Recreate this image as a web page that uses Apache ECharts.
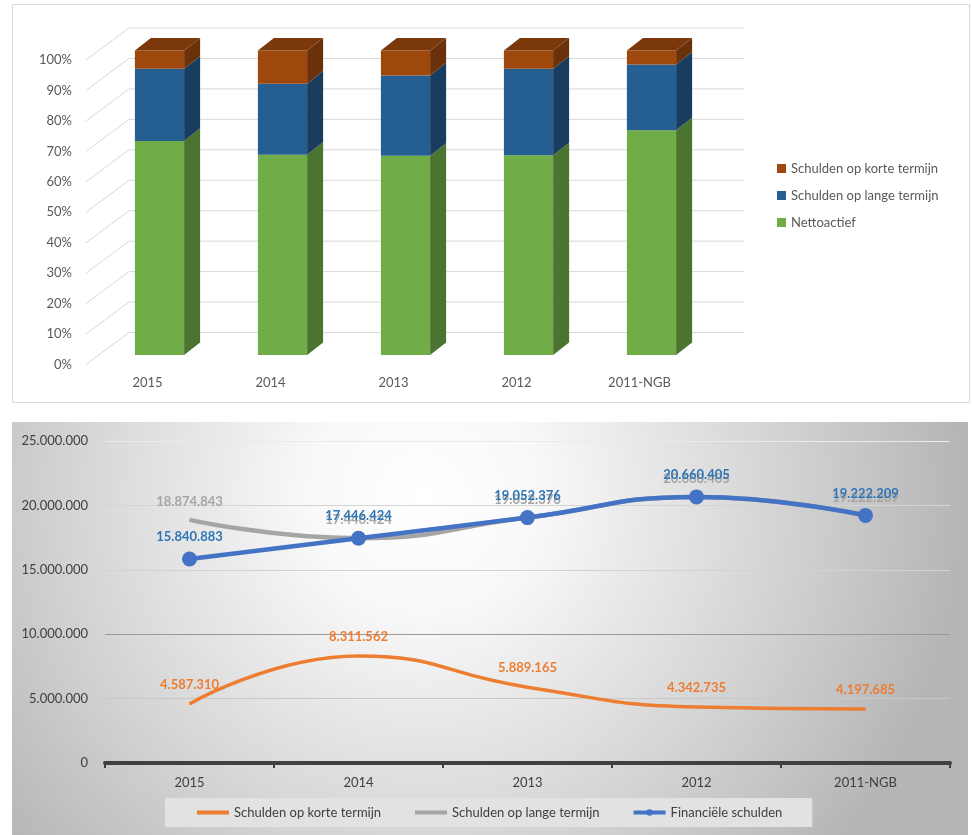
<!DOCTYPE html>
<html>
<head>
<meta charset="utf-8">
<script src="https://cdn.jsdelivr.net/npm/echarts@6/dist/echarts.min.js"></script>
<style>
html,body{margin:0;padding:0;background:#fff;}
#chart{width:972px;height:835px;}
</style>
</head>
<body>
<div id="chart"></div>
<script>
// ---- data ----
const categories = ['2015', '2014', '2013', '2012', '2011-NGB'];
// top chart: shares (%) per year
const pctNettoactief = [70.3, 65.8, 65.4, 65.6, 73.8];
const pctLange = [23.7, 23.3, 26.4, 28.4, 21.6];
const pctKorte = [6.0, 10.9, 8.2, 6.0, 4.6];
const pctTicks = [0, 10, 20, 30, 40, 50, 60, 70, 80, 90, 100];
// bottom chart: amounts
const schuldenKorte = [4587310, 8311562, 5889165, 4342735, 4197685];
const schuldenLange = [18874843, 17446424, 19052376, 20660405, 19222209];
const financieleSchulden = [15840883, 17446424, 19052376, 20660405, 19222209];

const nameKorte = 'Schulden op korte termijn';
const nameLange = 'Schulden op lange termijn';
const nameNetto = 'Nettoactief';
const nameFin = 'Financiële schulden';

// ---- helpers ----
function fmt(v) {
  return String(Math.round(v)).replace(/\B(?=(\d{3})+(?!\d))/g, '.');
}
const FONT = 'Lato';
const DEPTH_X = 43, DEPTH_Y = -32;       // wall depth
const BAR_OFF_X = 12, BAR_OFF_Y = -9.5;  // bar position inside depth
const BAR_D_X = 16, BAR_D_Y = -12.6;     // bar own depth

function stackData(values, bases, isTop) {
  return values.map((v, i) => [i, bases[i], bases[i] + v, isTop ? 1 : 0]);
}
const base0 = categories.map(() => 0);
const base1 = pctNettoactief.slice();
const base2 = pctNettoactief.map((v, i) => v + pctLange[i]);

function barRenderer(front, side, top) {
  return function (params, api) {
    const i = api.value(0);
    const p0 = api.coord([i, api.value(1)]);
    const p1 = api.coord([i, api.value(2)]);
    const band = api.size([1, 0])[0];
    const bw = band * 0.4;
    const cx = p0[0] + BAR_OFF_X;
    const yb = p0[1] + BAR_OFF_Y;
    const yt = p1[1] + BAR_OFF_Y;
    const xl = cx - bw / 2, xr = cx + bw / 2;
    const children = [
      {type: 'rect', shape: {x: xl, y: yt, width: bw, height: yb - yt}, style: {fill: front}},
      {type: 'polygon', shape: {points: [[xr, yb], [xr + BAR_D_X, yb + BAR_D_Y], [xr + BAR_D_X, yt + BAR_D_Y], [xr, yt]]}, style: {fill: side}}
    ];
    if (api.value(3) === 1) {
      children.push({type: 'polygon', shape: {points: [[xl, yt], [xl + BAR_D_X, yt + BAR_D_Y], [xr + BAR_D_X, yt + BAR_D_Y], [xr, yt]]}, style: {fill: top}});
    }
    return {type: 'group', children: children};
  };
}

function wallRenderer(params, api) {
  const v = api.value(0);
  const cs = params.coordSys;
  const y = api.coord([0, v])[1];
  const x0 = cs.x, x1 = cs.x + cs.width;
  const st = {stroke: '#d9d9d9', lineWidth: 1};
  return {
    type: 'group',
    children: [
      {type: 'line', shape: {x1: x0, y1: y, x2: x0 + DEPTH_X, y2: y + DEPTH_Y}, style: st},
      {type: 'line', shape: {x1: x0 + DEPTH_X, y1: y + DEPTH_Y, x2: x1 + DEPTH_X, y2: y + DEPTH_Y}, style: st}
    ]
  };
}

const chart = echarts.init(document.getElementById('chart'));
const option = {
  animation: false,
  textStyle: {fontFamily: FONT},
  graphic: [
    {type: 'rect', z: -10, silent: true, shape: {x: 12.5, y: 4.5, width: 957, height: 398}, style: {fill: '#ffffff', stroke: '#d9d9d9', lineWidth: 1}},
    {type: 'rect', z: -10, silent: true, shape: {x: 12, y: 422, width: 956, height: 413},
      style: {fill: {type: 'radial', x: 0.43, y: 0.18, r: 1.3, colorStops: [
        {offset: 0, color: '#ffffff'}, {offset: 0.22, color: '#f8f8f8'}, {offset: 0.6, color: '#d9d9d9'},
        {offset: 0.82, color: '#c6c6c6'}, {offset: 1, color: '#b6b6b6'}]}}}
  ],
  grid: [
    {left: 86, top: 60, width: 615, height: 304.5},
    {left: 105, top: 441, width: 845, height: 322}
  ],
  xAxis: [
    {type: 'category', gridIndex: 0, data: categories,
      axisLine: {show: false}, axisTick: {show: false},
      axisLabel: {color: '#595959', fontSize: 13, margin: 12}},
    {type: 'category', gridIndex: 1, data: categories,
      axisLine: {show: true, lineStyle: {color: '#404040', width: 4}},
      axisTick: {show: true, length: 5, lineStyle: {color: '#404040', width: 2}},
      axisLabel: {color: '#404040', fontSize: 13, margin: 13}}
  ],
  yAxis: [
    {type: 'value', gridIndex: 0, min: 0, max: 100, interval: 10,
      axisLine: {show: false}, axisTick: {show: false}, splitLine: {show: false},
      axisLabel: {formatter: '{value}%', color: '#595959', fontSize: 13, margin: 14}},
    {type: 'value', gridIndex: 1, min: 0, max: 25000000, interval: 5000000,
      axisLine: {show: false}, axisTick: {show: false},
      splitLine: {show: true, lineStyle: {width: 1, color: ['#d9d9d9', '#c8c8c8', '#999999', '#d2d2d2', '#d4d4d4', '#eaeaea']}},
      axisLabel: {formatter: fmt, color: '#404040', fontSize: 13, margin: 17}}
  ],
  legend: [
    {orient: 'vertical', left: 772, top: 157, itemWidth: 9, itemHeight: 9, itemGap: 14, icon: 'rect',
      textStyle: {color: '#595959', fontSize: 13, fontFamily: FONT},
      data: ['top_korte', 'top_lange', 'top_netto'],
      formatter: n => ({top_korte: nameKorte, top_lange: nameLange, top_netto: nameNetto})[n]},
    {orient: 'horizontal', left: 165, top: 798, itemWidth: 32, itemHeight: 8, itemGap: 32,
      padding: [8, 30, 8, 30], backgroundColor: '#e2e2e2',
      lineStyle: {width: 4},
      textStyle: {color: '#404040', fontSize: 13, fontFamily: FONT},
      data: [
        {name: 'line_korte', itemStyle: {opacity: 0}},
        {name: 'line_lange', itemStyle: {opacity: 0}},
        {name: 'line_fin'}
      ],
      formatter: n => ({line_korte: nameKorte, line_lange: nameLange, line_fin: nameFin})[n]}
  ],
  series: [
    {type: 'custom', name: 'wall', xAxisIndex: 0, yAxisIndex: 0, silent: true, z: 1,
      renderItem: wallRenderer, data: pctTicks.map(v => [v]), encode: {y: 0}},
    {type: 'custom', name: 'top_netto', xAxisIndex: 0, yAxisIndex: 0, itemStyle: {color: '#70AD47'},
      renderItem: barRenderer('#70AD47', '#4B7431', '#5a8c38'), data: stackData(pctNettoactief, base0, false), encode: {x: 0, y: [1, 2]}},
    {type: 'custom', name: 'top_lange', xAxisIndex: 0, yAxisIndex: 0, itemStyle: {color: '#255E91'},
      renderItem: barRenderer('#255E91', '#183D5F', '#1d4a73'), data: stackData(pctLange, base1, false), encode: {x: 0, y: [1, 2]}},
    {type: 'custom', name: 'top_korte', xAxisIndex: 0, yAxisIndex: 0, itemStyle: {color: '#9E480E'},
      renderItem: barRenderer('#9E480E', '#6B310A', '#7A380B'), data: stackData(pctKorte, base2, true), encode: {x: 0, y: [1, 2]}},
    {type: 'line', name: 'line_korte', xAxisIndex: 1, yAxisIndex: 1, data: schuldenKorte,
      smooth: 0.5, symbol: 'circle', symbolSize: 1, showSymbol: true,
      itemStyle: {color: '#ED7D31'}, lineStyle: {color: '#ED7D31', width: 3.5},
      label: {show: true, position: 'top', distance: 12, color: '#ED7D31', fontWeight: 'bold', fontSize: 13, formatter: p => fmt(p.value)}},
    {type: 'line', name: 'line_lange', xAxisIndex: 1, yAxisIndex: 1, data: schuldenLange,
      smooth: 0.5, symbol: 'circle', symbolSize: 1, showSymbol: true,
      itemStyle: {color: '#A5A5A5'}, lineStyle: {color: '#A5A5A5', width: 4.5},
      label: {show: true, position: 'top', distance: 11, color: '#A5A5A5', fontWeight: 'bold', fontSize: 13, formatter: p => fmt(p.value)}},
    {type: 'line', name: 'line_fin', xAxisIndex: 1, yAxisIndex: 1, data: financieleSchulden,
      smooth: 0.5, symbol: 'circle', symbolSize: 15, showSymbol: true,
      itemStyle: {color: '#4472C4'}, lineStyle: {color: '#4472C4', width: 4.5},
      label: {show: true, position: 'top', distance: 8, color: '#2E75B6', fontWeight: 'bold', fontSize: 13, formatter: p => fmt(p.value)}}
  ]
};
chart.setOption(option);
</script>
</body>
</html>
